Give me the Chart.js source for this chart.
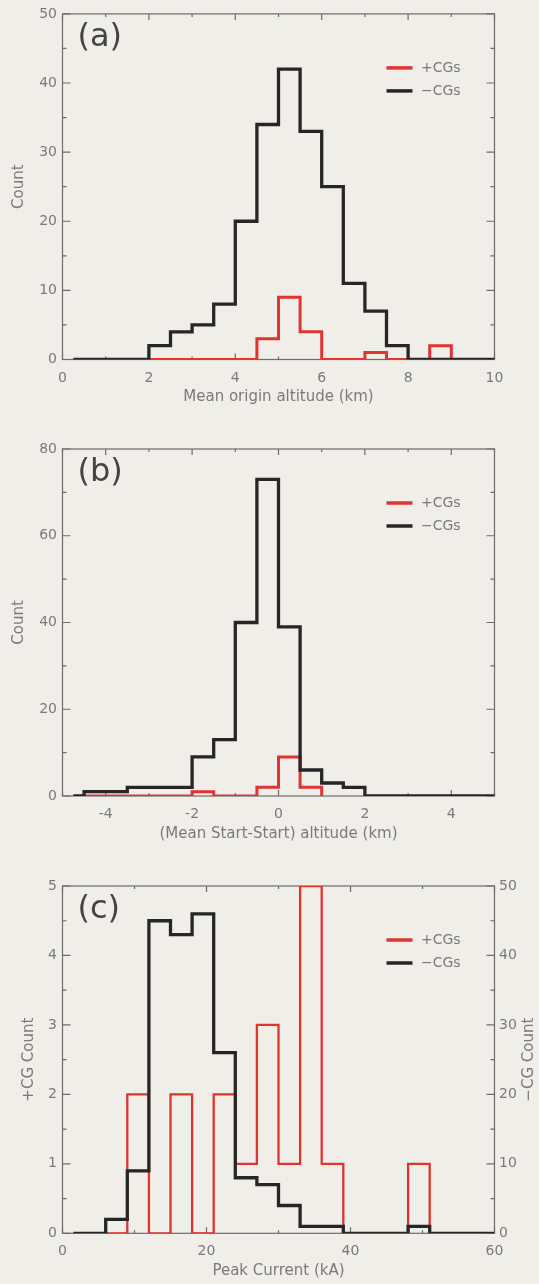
<!DOCTYPE html>
<html>
<head>
<meta charset="utf-8">
<script src="https://cdn.jsdelivr.net/npm/chart.js@4.4.1/dist/chart.umd.min.js"></script>
<style>
  html, body { margin: 0; padding: 0; background: #efeee9; }
  body { width: 539px; height: 1284px; position: relative; overflow: hidden; }
  canvas { position: absolute; left: 0; }
</style>
</head>
<body>
<canvas id="chart_a" width="539" height="430" style="top:0px"></canvas>
<canvas id="chart_b" width="539" height="430" style="top:430px"></canvas>
<canvas id="chart_c" width="539" height="424" style="top:860px"></canvas>
<script>
// 데이터 (step edges : 각 구간 시작 x, 마지막 값은 끝 x)
// (a) Mean origin altitude (km)
var aPosX = [2, 4.5, 5, 5.5, 6, 7, 7.5, 8.5, 9];
var aPosCount = [0, 3, 9, 4, 0, 1, 0, 2];
var aNegX = [0.25, 2, 2.5, 3, 3.5, 4, 4.5, 5, 5.5, 6, 6.5, 7, 7.5, 8, 10];
var aNegCount = [0, 2, 4, 5, 8, 20, 34, 42, 33, 25, 11, 7, 2, 0];
var aXTicks = [0, 2, 4, 6, 8, 10];
var aYTicks = [0, 10, 20, 30, 40, 50];

// (b) (Mean Start-Start) altitude (km)
var bPosX = [-4.5, -2, -1.5, -0.5, 0, 0.5, 1];
var bPosCount = [0, 1, 0, 2, 9, 2];
var bNegX = [-4.75, -4.5, -3.5, -2, -1.5, -1, -0.5, 0, 0.5, 1, 1.5, 2, 5];
var bNegCount = [0, 1, 2, 9, 13, 40, 73, 39, 6, 3, 2, 0];
var bXTicks = [-4, -2, 0, 2, 4];
var bYTicks = [0, 20, 40, 60, 80];

// (c) Peak Current (kA)
var cPosX = [6, 9, 12, 15, 18, 21, 24, 27, 30, 33, 36, 39, 48, 51];
var cPosCount = [0, 2, 0, 2, 0, 2, 1, 3, 1, 5, 1, 0, 1];
var cNegX = [1.5, 6, 9, 12, 15, 18, 21, 24, 27, 30, 33, 39, 48, 51, 60];
var cNegCount = [0, 2, 9, 45, 43, 46, 26, 8, 7, 4, 1, 0, 1, 0];
var cXTicks = [0, 20, 40, 60];
var cYTicks = [0, 1, 2, 3, 4, 5];
var cY2Ticks = [0, 10, 20, 30, 40, 50];

var RED = '#e1342f';
var BLACK = '#262626';
var GRAY = '#7a7a7a';
var FONT = "'DejaVu Sans', sans-serif";

Chart.defaults.font.family = FONT;
Chart.defaults.color = GRAY;

function stepPoints(xs, counts) {
  var pts = [];
  for (var i = 0; i < counts.length; i++) {
    pts.push({ x: xs[i], y: counts[i] });
  }
  pts.push({ x: xs[counts.length], y: 0 });
  return pts;
}

// 안쪽 눈금
function eachTick(scale, major, minor, fn) {
  var n0 = Math.ceil(scale.min / minor - 1e-6);
  var n1 = Math.floor(scale.max / minor + 1e-6);
  for (var n = n0; n <= n1; n++) {
    var v = n * minor;
    var isMajor = Math.abs(v / major - Math.round(v / major)) < 1e-6;
    fn(scale.getPixelForValue(v), isMajor);
  }
}

var boxPlugin = {
  id: 'box',
  beforeDatasetsDraw: function(chart, args, opts) {
    var ctx = chart.ctx, a = chart.chartArea;
    ctx.save();
    ctx.strokeStyle = '#6c6c6c';
    ctx.lineWidth = 1.2;
    ctx.strokeRect(a.left, a.top, a.right - a.left, a.bottom - a.top);
    ctx.beginPath();
    eachTick(chart.scales.x, opts.x[0], opts.x[1], function(p, big) {
      var len = big ? 6 : 3;
      ctx.moveTo(p, a.bottom); ctx.lineTo(p, a.bottom - len);
      ctx.moveTo(p, a.top); ctx.lineTo(p, a.top + len);
    });
    eachTick(chart.scales.y, opts.y[0], opts.y[1], function(p, big) {
      var len = big ? 8 : 4;
      ctx.moveTo(a.left, p); ctx.lineTo(a.left + len, p);
      if (!opts.y2) { ctx.moveTo(a.right, p); ctx.lineTo(a.right - len, p); }
    });
    if (opts.y2) {
      eachTick(chart.scales.y2, opts.y2[0], opts.y2[1], function(p, big) {
        var len = big ? 8 : 4;
        ctx.moveTo(a.right, p); ctx.lineTo(a.right - len, p);
      });
    }
    ctx.stroke();
    ctx.restore();
  },
  afterDatasetsDraw: function(chart, args, opts) {
    var ctx = chart.ctx, a = chart.chartArea;
    ctx.save();
    // 패널 라벨
    ctx.fillStyle = '#444444';
    ctx.font = '32px ' + FONT;
    ctx.textAlign = 'left';
    ctx.textBaseline = 'middle';
    ctx.fillText(opts.label, a.left + 15, a.top + 24);
    // 범례
    var items = [{ t: '+CGs', c: RED }, { t: '\u2212CGs', c: BLACK }];
    ctx.font = '14px ' + FONT;
    items.forEach(function(it, i) {
      var y = a.top + 54 + i * 23;
      ctx.strokeStyle = it.c;
      ctx.lineWidth = 3.5;
      ctx.beginPath();
      ctx.moveTo(a.right - 108, y);
      ctx.lineTo(a.right - 82, y);
      ctx.stroke();
      ctx.fillStyle = GRAY;
      ctx.fillText(it.t, a.right - 73.5, y);
    });
    // 오른쪽 축 제목
    if (opts.rightTitle) {
      ctx.translate(529, (a.top + a.bottom) / 2);
      ctx.rotate(-Math.PI / 2);
      ctx.textAlign = 'center';
      ctx.font = '15px ' + FONT;
      ctx.fillText(opts.rightTitle, 0, 0);
    }
    ctx.restore();
  }
};

function xScale(min, max, ticks, title) {
  return {
    type: 'linear', min: min, max: max,
    grid: { display: false, drawTicks: false },
    border: { display: false },
    afterBuildTicks: function(s) { s.ticks = ticks.map(function(v) { return { value: v }; }); },
    afterFit: function(s) { s.height = 50; },
    ticks: { padding: 10, color: GRAY, font: { size: 14 } },
    title: { display: true, text: title, color: GRAY, font: { size: 15 }, padding: { top: 0, bottom: 3 } }
  };
}

function yScale(min, max, ticks, title, titlePad, pos) {
  return {
    type: 'linear', min: min, max: max, position: pos || 'left',
    grid: { display: false, drawTicks: false },
    border: { display: false },
    afterBuildTicks: function(s) { s.ticks = ticks.map(function(v) { return { value: v }; }); },
    afterFit: function(s) { s.width = (pos === 'right') ? 44.5 : 62.5; },
    ticks: { padding: (pos === 'right') ? 4.5 : 5.5, color: GRAY, font: { size: 14 } },
    title: { display: !!title, text: title || '', color: GRAY, font: { size: 15 }, padding: { top: titlePad, bottom: 0 } }
  };
}

function lineSet(label, pts, color, width, order, axis) {
  // 'before' = 수평 먼저, 다음 x에서 수직
  return {
    label: label, data: pts, borderColor: color, borderWidth: width,
    stepped: 'before', pointRadius: 0, fill: false, order: order,
    borderJoinStyle: 'miter', borderCapStyle: 'butt', yAxisID: axis || 'y'
  };
}

function baseOptions(pad, scales, box) {
  return {
    responsive: false, animation: false, devicePixelRatio: 1,
    layout: { padding: pad },
    scales: scales,
    plugins: { legend: { display: false }, tooltip: { enabled: false }, box: box }
  };
}

// (a)
new Chart(document.getElementById('chart_a').getContext('2d'), {
  type: 'line',
  data: { datasets: [
    lineSet('+CGs', stepPoints(aPosX, aPosCount), RED, 3, 2),
    lineSet('\u2212CGs', stepPoints(aNegX, aNegCount), BLACK, 3.3, 1)
  ] },
  options: baseOptions({ left: 0, right: 44.5, top: 12.5, bottom: 20.5 },
    { x: xScale(0, 10, aXTicks, 'Mean origin altitude (km)'),
      y: yScale(0, 50, aYTicks, 'Count', 10) },
    { x: [2, 1], y: [10, 5], label: '(a)' }),
  plugins: [boxPlugin]
});

// (b)
new Chart(document.getElementById('chart_b').getContext('2d'), {
  type: 'line',
  data: { datasets: [
    lineSet('+CGs', stepPoints(bPosX, bPosCount), RED, 3, 2),
    lineSet('\u2212CGs', stepPoints(bNegX, bNegCount), BLACK, 3.3, 1)
  ] },
  options: baseOptions({ left: 0, right: 44.5, top: 19, bottom: 14 },
    { x: xScale(-5, 5, bXTicks, '(Mean Start-Start) altitude (km)'),
      y: yScale(0, 80, bYTicks, 'Count', 10) },
    { x: [2, 1], y: [20, 10], label: '(b)' }),
  plugins: [boxPlugin]
});

// (c)
new Chart(document.getElementById('chart_c').getContext('2d'), {
  type: 'line',
  data: { datasets: [
    lineSet('+CGs', stepPoints(cPosX, cPosCount), RED, 2.3, 2, 'y'),
    lineSet('\u2212CGs', stepPoints(cNegX, cNegCount), BLACK, 3.3, 1, 'y2')
  ] },
  options: baseOptions({ left: 0, right: 0, top: 26, bottom: 0.7 },
    { x: xScale(0, 60, cXTicks, 'Peak Current (kA)'),
      y: yScale(0, 5, cYTicks, '+CG Count', 20),
      y2: yScale(0, 50, cY2Ticks, null, 0, 'right') },
    { x: [20, 10], y: [1, 0.5], y2: [10, 5], label: '(c)', rightTitle: '\u2212CG Count' }),
  plugins: [boxPlugin]
});
</script>
</body>
</html>
